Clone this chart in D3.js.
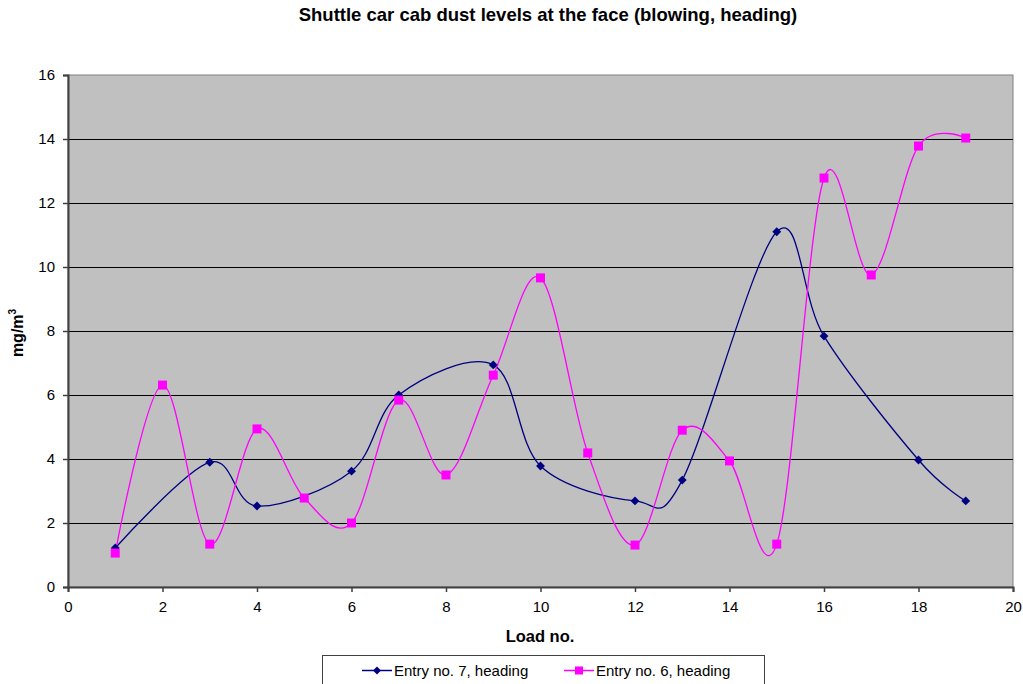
<!DOCTYPE html>
<html>
<head>
<meta charset="utf-8">
<script src="https://d3js.org/d3.v7.min.js"></script>
<style>
  body { margin: 0; background: #fff; }
  text { font-family: "Liberation Sans", Arial, sans-serif; }
</style>
</head>
<body>
<div id="chart"></div>
<script>
// load numbers and dust levels (mg/m3)
var loads7 = [1, 3, 4, 6, 7, 9, 10, 12, 13, 15, 16, 18, 19];
var entry7 = [1.22, 3.9, 2.53, 3.62, 6.0, 6.94, 3.78, 2.69, 3.34, 11.1, 7.84, 3.97, 2.69];
var loads6 = [1, 2, 3, 4, 5, 6, 7, 8, 9, 10, 11, 12, 13, 14, 15, 16, 17, 18, 19];
var entry6 = [1.06, 6.31, 1.34, 4.94, 2.78, 2.0, 5.84, 3.5, 6.62, 9.66, 4.19, 1.31, 4.9, 3.94, 1.34, 12.78, 9.75, 13.78, 14.03];
var xTicks = [0, 2, 4, 6, 8, 10, 12, 14, 16, 18, 20];
var yTicks = [0, 2, 4, 6, 8, 10, 12, 14, 16];

var W = 1023, H = 684;
var pLeft = 68, pRight = 1013, pTop = 75, pBottom = 587;

var svg = d3.select("#chart").append("svg")
    .attr("width", W)
    .attr("height", H);

var x = d3.scaleLinear().domain([0, 20]).range([pLeft, pRight]);
var y = d3.scaleLinear().domain([0, 16]).range([pBottom, pTop]);

// plot area
svg.append("rect")
    .attr("x", pLeft).attr("y", pTop)
    .attr("width", pRight - pLeft).attr("height", pBottom - pTop)
    .attr("fill", "#c0c0c0")
    .attr("stroke", "#808080")
    .attr("stroke-width", 1);

// gridlines
svg.selectAll("line.grid")
    .data(yTicks.filter(function(d){ return d > 0 && d < 16; }))
    .enter()
    .append("line")
    .attr("class", "grid")
    .attr("x1", pLeft).attr("x2", pRight)
    .attr("y1", function(d){ return Math.round(y(d)) + 0.5; })
    .attr("y2", function(d){ return Math.round(y(d)) + 0.5; })
    .attr("stroke", "#000")
    .attr("stroke-width", 1);

// axes
var yAxis = d3.axisLeft(y).tickValues(yTicks).tickSize(5).tickPadding(8);
var gy = svg.append("g").attr("transform", "translate(" + pLeft + ",0)").call(yAxis);
var xAxis = d3.axisBottom(x).tickValues(xTicks).tickSize(5).tickPadding(9);
var gx = svg.append("g").attr("transform", "translate(0," + pBottom + ")").call(xAxis);

[gy, gx].forEach(function(g){
    g.select(".domain").attr("stroke", "#404040").attr("stroke-width", 2);
    g.selectAll(".tick line").attr("stroke", "#404040").attr("stroke-width", 1.5);
    g.selectAll(".tick text")
        .attr("font-size", 15)
        .attr("fill", "#000")
        .style("font-family", "'Liberation Sans', Arial, sans-serif");
});

// title and axis labels
svg.append("text")
    .attr("x", 548).attr("y", 21)
    .attr("text-anchor", "middle")
    .attr("font-size", 18.5)
    .attr("font-weight", "bold")
    .text("Shuttle car cab dust levels at the face (blowing, heading)");

svg.append("text")
    .attr("x", 540).attr("y", 642)
    .attr("text-anchor", "middle")
    .attr("font-size", 16.5)
    .attr("font-weight", "bold")
    .text("Load no.");

var yl = svg.append("text")
    .attr("transform", "translate(23,333) rotate(-90)")
    .attr("text-anchor", "middle")
    .attr("font-size", 16)
    .attr("font-weight", "bold");
yl.append("tspan").text("mg/m");
yl.append("tspan").attr("font-size", 10).attr("dy", -7).text("3");

// series
var line = d3.line()
    .x(function(d){ return x(d[0]); })
    .y(function(d){ return y(d[1]); })
    .curve(d3.curveCatmullRom.alpha(0));

var s7 = d3.zip(loads7, entry7);
var s6 = d3.zip(loads6, entry6);

svg.append("path")
    .datum(s7)
    .attr("d", line)
    .attr("fill", "none")
    .attr("stroke", "#000080")
    .attr("stroke-width", 1.3);

svg.append("path")
    .datum(s6)
    .attr("d", line)
    .attr("fill", "none")
    .attr("stroke", "#ff00ff")
    .attr("stroke-width", 1.3);

var diamond = d3.symbol().type(d3.symbolDiamond2).size(50);

svg.selectAll("path.m7")
    .data(s7)
    .enter()
    .append("path")
    .attr("class", "m7")
    .attr("d", diamond)
    .attr("transform", function(d){ return "translate(" + x(d[0]) + "," + y(d[1]) + ")"; })
    .attr("fill", "#000080");

svg.selectAll("rect.m6")
    .data(s6)
    .enter()
    .append("rect")
    .attr("class", "m6")
    .attr("x", function(d){ return x(d[0]) - 4.5; })
    .attr("y", function(d){ return y(d[1]) - 4.5; })
    .attr("width", 9).attr("height", 9)
    .attr("fill", "#ff00ff");

// legend
var lg = svg.append("g");
lg.append("rect")
    .attr("x", 322.5).attr("y", 655.5)
    .attr("width", 442).attr("height", 40)
    .attr("fill", "#fff")
    .attr("stroke", "#404040")
    .attr("stroke-width", 1);

var items = [
    { label: "Entry no. 7, heading", color: "#000080", x: 362, kind: "d" },
    { label: "Entry no. 6, heading", color: "#ff00ff", x: 564, kind: "s" }
];
items.forEach(function(it){
    lg.append("line")
        .attr("x1", it.x).attr("x2", it.x + 30)
        .attr("y1", 670.5).attr("y2", 670.5)
        .attr("stroke", it.color).attr("stroke-width", 1.5);
    if (it.kind === "d") {
        lg.append("path")
            .attr("d", d3.symbol().type(d3.symbolDiamond2).size(40))
            .attr("transform", "translate(" + (it.x + 15) + ",670.5)")
            .attr("fill", it.color);
    } else {
        lg.append("rect")
            .attr("x", it.x + 11).attr("y", 666.5)
            .attr("width", 8).attr("height", 8)
            .attr("fill", it.color);
    }
    lg.append("text")
        .attr("x", it.x + 32).attr("y", 676)
        .attr("font-size", 15)
        .text(it.label);
});
</script>
</body>
</html>
